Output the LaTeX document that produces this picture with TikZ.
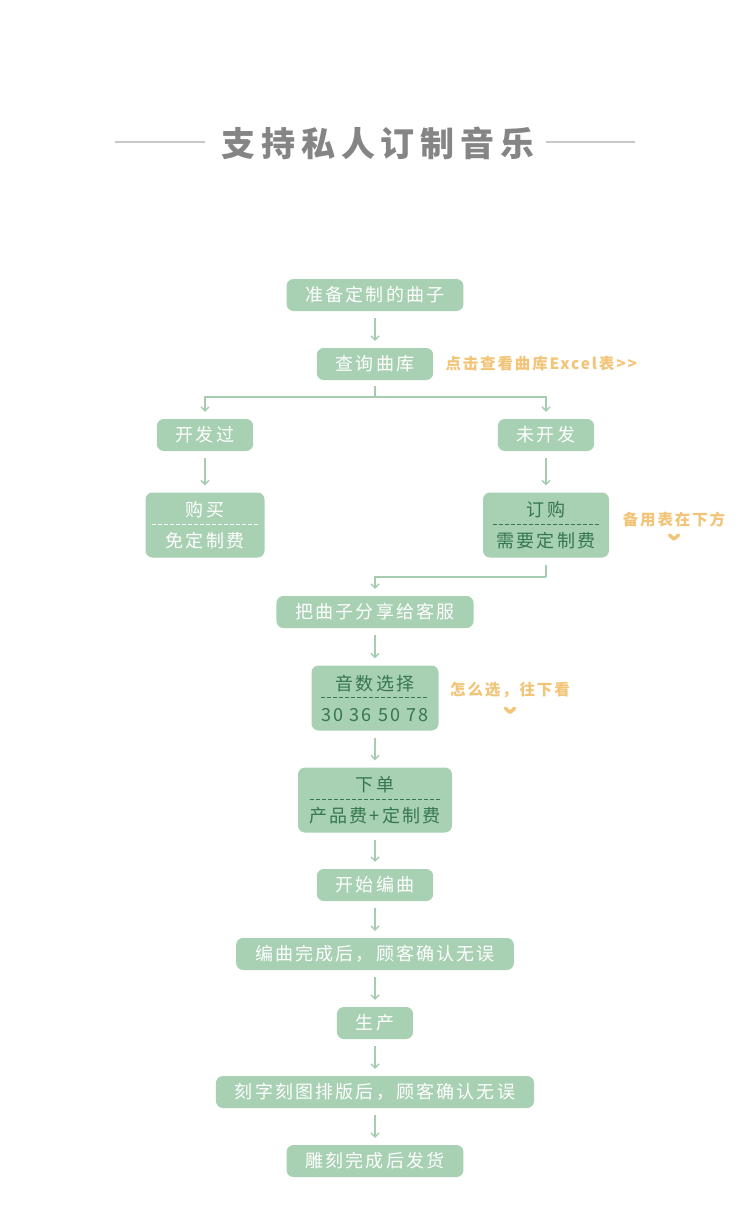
\documentclass[tikz,border=0pt]{standalone}
\usepackage{fontspec}
\setmainfont{Noto Sans CJK SC}
\newfontfamily\cjk[LetterSpace=12]{Noto Sans CJK SC}
\newfontfamily\titlefont[LetterSpace=17]{Noto Sans CJK SC}
\usepackage{tikz}
\usetikzlibrary{positioning,arrows.meta,calc}

\definecolor{boxgreen}{HTML}{A8D0B3}
\definecolor{darkgreen}{HTML}{35774F}
\definecolor{linegreen}{HTML}{A6CCB0}
\definecolor{notegold}{HTML}{F2C477}
\definecolor{titlegray}{HTML}{858585}
\definecolor{rulegray}{HTML}{C8C8C8}

\tikzset{
  box/.style={rounded corners=7pt, fill=boxgreen, text=white, minimum height=32pt,
    inner xsep=19pt, inner ysep=0pt, font=\cjk\fontsize{18}{31}\selectfont},
  dbox/.style={box, minimum height=65pt, inner xsep=0pt, align=center},
  dark/.style={text=darkgreen},
  link/.style={draw=linegreen, line width=1.4pt},
  flow/.style={link, -{Straight Barb[length=4pt,width=8pt]}, shorten >=7pt},
  sep/.style={dash pattern=on 4pt off 2pt, line width=0.8pt},
  note/.style={text=notegold, font=\cjk\bfseries\fontsize{15.5}{18}\selectfont},
  chev/.style={draw=notegold, line width=3.5pt, line cap=round, line join=round},
}

\begin{document}
\begin{tikzpicture}[x=1pt,y=-1pt]
    \useasboundingbox (0,0) rectangle (750,1217);

    % Draw title
    \node[text=titlegray, font=\titlefont\bfseries\fontsize{34}{36}\selectfont] (ttl) at (378,143) {支持私人订制音乐};
    \draw[rulegray, line width=1.2pt] (115,142) -- (205,142);
    \draw[rulegray, line width=1.2pt] (546,142) -- (635,142);

    % Draw steps
    \node[box] (prep) at (375,295) {准备定制的曲子};
    \node[box] (query) at (375,364) {查询曲库};
    \node[note, anchor=west] (excel) at (442,364) {点击查看曲库Excel表>>};
    \node[box] (done) at (205,435) {开发过};
    \node[box] (todo) at (546,435) {未开发};
    \node[dbox, minimum width=119pt] (buy) at (205,525) {购买\\免定制费};
    \node[dbox, dark, minimum width=126pt] (order) at (546,525) {订购\\需要定制费};
    \node[note] (spare) at (674,520) {备用表在下方};
    \node[box] (share) at (375,612) {把曲子分享给客服};
    \node[dbox, dark, minimum width=127pt] (notes) at (375,698) {音数选择\\30 36 50 78};
    \node[note] (how) at (510,690) {怎么选，往下看};
    \node[dbox, dark, minimum width=154pt] (pay) at (375,800) {下单\\产品费+定制费};
    \node[box] (arrange) at (375,885) {开始编曲};
    \node[box] (check1) at (375,954) {编曲完成后，顾客确认无误};
    \node[box] (make) at (375,1023) {生产};
    \node[box] (check2) at (375,1092) {刻字刻图排版后，顾客确认无误};
    \node[box] (ship) at (375,1161) {雕刻完成后发货};

    % Draw dashed separators
    \draw[sep, white] ($(buy.west)+(7,-1)$) -- ($(buy.east)+(-7,-1)$);
    \draw[sep, darkgreen] ($(order.west)+(10,-1)$) -- ($(order.east)+(-10,-1)$);
    \draw[sep, darkgreen] ($(notes.west)+(10,-1)$) -- ($(notes.east)+(-10,-1)$);
    \draw[sep, darkgreen] ($(pay.west)+(12,-1)$) -- ($(pay.east)+(-12,-1)$);

    % Draw chevrons
    \draw[chev] ($(spare.south)+(-4.5,4)$) -- ($(spare.south)+(0,8)$) -- ($(spare.south)+(4.5,4)$);
    \draw[chev] ($(how.south)+(-4.5,7)$) -- ($(how.south)+(0,11)$) -- ($(how.south)+(4.5,7)$);

    % Draw connectors
    \coordinate (split) at (375,397);
    \coordinate (join) at (546,577);
    \draw[flow, shorten <=7pt] (prep) -- (query);
    \draw[link, shorten <=6pt] (query.south) -- (split);
    \draw[flow] (split) -| (done);
    \draw[flow] (split) -| (todo);
    \draw[flow, shorten <=7pt] (done) -- (buy);
    \draw[flow, shorten <=7pt] (todo) -- (order);
    \draw[link, shorten <=7pt] (order.south) -- (join);
    \draw[flow] (join) -| (share);
    \draw[flow, shorten <=7pt] (share) -- (notes);
    \draw[flow, shorten <=7pt] (notes) -- (pay);
    \draw[flow, shorten <=7pt] (pay) -- (arrange);
    \draw[flow, shorten <=7pt] (arrange) -- (check1);
    \draw[flow, shorten <=7pt] (check1) -- (make);
    \draw[flow, shorten <=7pt] (make) -- (check2);
    \draw[flow, shorten <=7pt] (check2) -- (ship);
\end{tikzpicture}
\end{document}
